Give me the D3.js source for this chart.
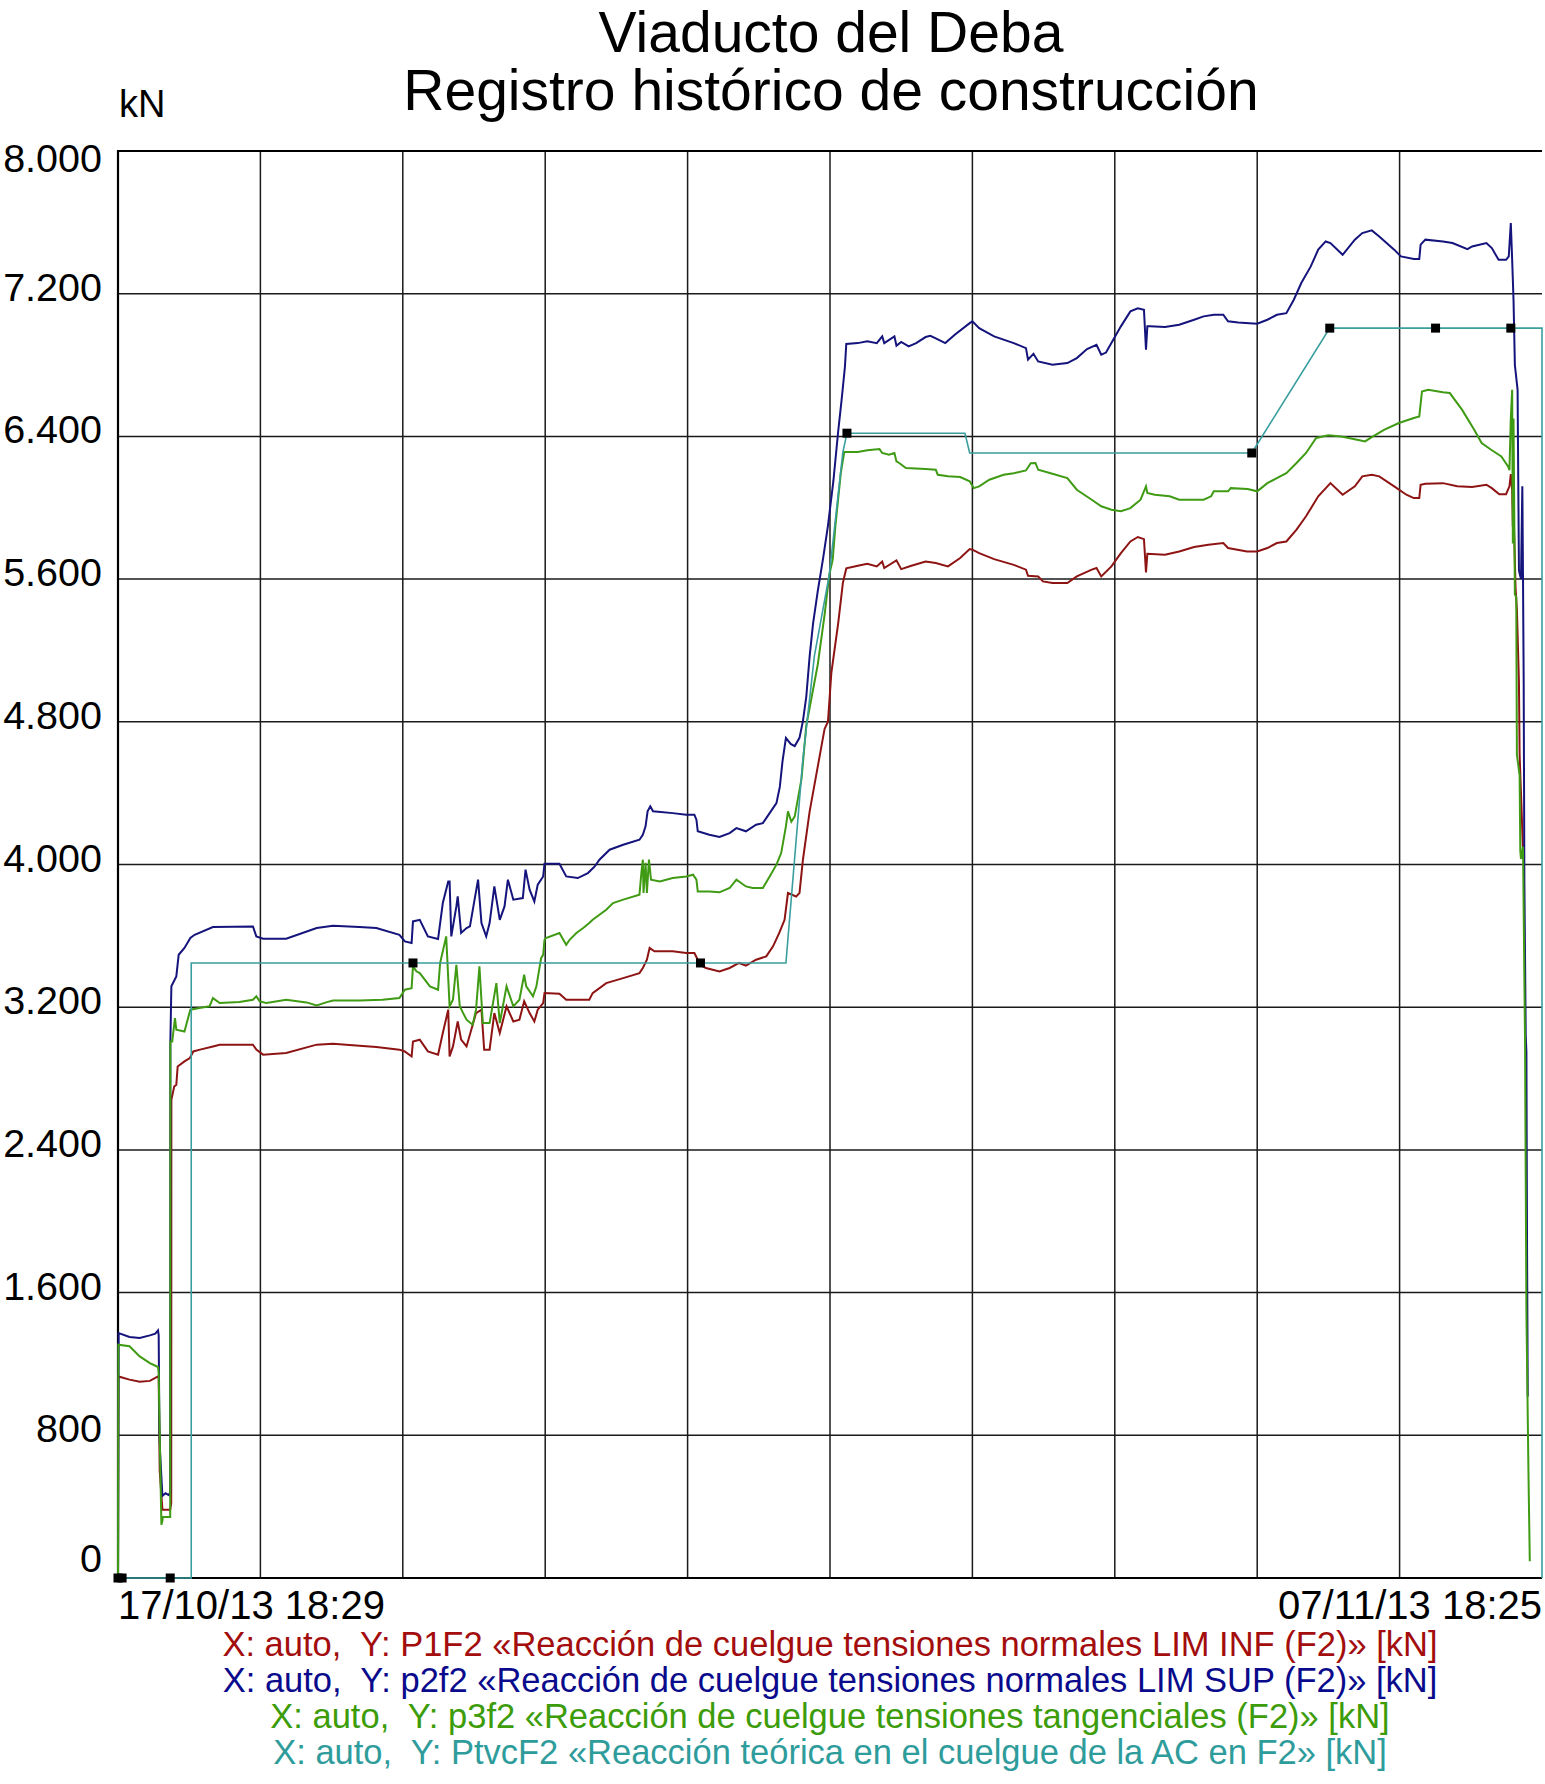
<html><head>
<title>Viaducto del Deba</title>
<script src="https://d3js.org/d3.v7.min.js"></script>
<style>
  body { margin: 0; background: white; }
  text { font-family: "Liberation Sans", Arial, sans-serif; }
</style>
</head>
<body>
<svg id="chart" width="1545" height="1784"></svg>

<script>
// [day since 17/10/13 18:29, kN]
const p1f2 = [[0,0],[0.005,1130],[0.17,1112],[0.32,1100],[0.47,1105],[0.59,1130],[0.6,1120],[0.615,600],[0.655,383],[0.77,383],[0.785,420],[0.787,2681],[0.83,2756],[0.86,2765],[0.88,2868],[0.98,2896],[1.06,2915],[1.11,2952],[1.21,2962],[1.4,2980],[1.5,2990],[1.99,2990],[2.04,2962],[2.14,2934],[2.48,2943],[2.93,2990],[3.17,2995],[3.56,2984],[3.81,2977],[4.15,2962],[4.23,2952],[4.33,2924],[4.35,3008],[4.45,3018],[4.57,2952],[4.72,2934],[4.79,3055],[4.87,3186],[4.89,2924],[4.94,2980],[5.01,3120],[5.06,3018],[5.14,2980],[5.28,3167],[5.36,3186],[5.4,2962],[5.48,2962],[5.55,3167],[5.63,3055],[5.73,3205],[5.83,3120],[5.92,3130],[5.99,3233],[6.07,3167],[6.14,3120],[6.19,3186],[6.27,3223],[6.29,3279],[6.51,3276],[6.61,3242],[6.95,3242],[7.0,3279],[7.2,3335],[7.45,3363],[7.69,3391],[7.74,3420],[7.8,3466],[7.84,3532],[7.91,3513],[8.18,3513],[8.38,3504],[8.5,3504],[8.55,3466],[8.58,3438],[8.67,3420],[8.87,3401],[9.02,3420],[9.16,3448],[9.26,3433],[9.41,3466],[9.56,3485],[9.66,3541],[9.75,3615],[9.83,3690],[9.88,3840],[9.95,3829],[10.0,3820],[10.05,3840],[10.1,4024],[10.2,4298],[10.32,4550],[10.42,4760],[10.47,4801],[10.52,5075],[10.62,5351],[10.69,5579],[10.74,5660],[10.91,5675],[11.05,5686],[11.19,5671],[11.27,5699],[11.3,5662],[11.48,5705],[11.55,5656],[11.7,5675],[11.91,5699],[12.06,5690],[12.24,5671],[12.42,5718],[12.56,5768],[12.6,5765],[12.7,5746],[12.92,5712],[13.21,5680],[13.39,5653],[13.42,5619],[13.57,5615],[13.64,5587],[13.78,5578],[14.0,5578],[14.14,5615],[14.36,5653],[14.43,5662],[14.5,5615],[14.65,5671],[14.79,5746],[14.93,5811],[15.04,5836],[15.13,5824],[15.16,5638],[15.18,5742],[15.44,5737],[15.65,5755],[15.87,5780],[16.08,5793],[16.3,5802],[16.37,5774],[16.65,5755],[16.8,5755],[16.95,5774],[17.09,5802],[17.23,5811],[17.38,5877],[17.52,5952],[17.7,6064],[17.88,6138],[18.06,6073],[18.24,6120],[18.35,6176],[18.49,6185],[18.6,6176],[18.82,6120],[19.0,6073],[19.11,6054],[19.19,6054],[19.21,6129],[19.28,6135],[19.54,6138],[19.75,6120],[19.97,6116],[20.18,6129],[20.26,6110],[20.37,6076],[20.47,6076],[20.52,6120],[20.54,6189],[20.56,6100],[20.57,5896],[20.58,6000],[20.61,5550],[20.63,5430],[20.66,5020],[20.67,4615],[20.69,4400],[20.72,4076]];

const p2f2 = [[0,0],[0.01,1373],[0.17,1351],[0.32,1345],[0.47,1360],[0.55,1370],[0.59,1388],[0.6,1360],[0.61,850],[0.62,710],[0.655,460],[0.7,475],[0.75,465],[0.77,480],[0.772,2999],[0.787,3317],[0.86,3373],[0.895,3494],[0.98,3532],[1.067,3588],[1.13,3606],[1.4,3649],[1.99,3653],[2.04,3597],[2.14,3584],[2.48,3584],[2.93,3644],[3.17,3657],[3.56,3649],[3.81,3644],[4.15,3606],[4.23,3569],[4.33,3560],[4.35,3681],[4.45,3690],[4.57,3597],[4.72,3582],[4.79,3784],[4.87,3905],[4.89,3905],[4.915,3597],[4.99,3765],[5.01,3821],[5.06,3616],[5.14,3644],[5.19,3653],[5.31,3915],[5.36,3672],[5.43,3597],[5.48,3672],[5.55,3877],[5.63,3690],[5.7,3765],[5.75,3915],[5.83,3803],[5.97,3812],[6.01,3971],[6.07,3859],[6.14,3793],[6.19,3887],[6.27,3933],[6.29,4004],[6.51,4004],[6.61,3933],[6.78,3924],[6.93,3952],[7.03,3989],[7.1,4027],[7.25,4083],[7.45,4111],[7.69,4139],[7.74,4167],[7.78,4214],[7.81,4298],[7.85,4326],[7.89,4298],[8.18,4288],[8.38,4279],[8.5,4279],[8.53,4251],[8.55,4186],[8.72,4167],[8.87,4154],[9.02,4176],[9.12,4204],[9.26,4186],[9.41,4223],[9.51,4232],[9.61,4288],[9.71,4344],[9.76,4435],[9.8,4580],[9.85,4710],[9.92,4676],[9.98,4664],[10.05,4710],[10.1,4802],[10.15,4940],[10.2,5168],[10.25,5350],[10.32,5534],[10.4,5720],[10.47,5900],[10.55,6150],[10.62,6426],[10.67,6600],[10.72,6790],[10.74,6918],[10.91,6923],[11.05,6933],[11.19,6923],[11.27,6961],[11.3,6923],[11.45,6961],[11.48,6908],[11.55,6930],[11.66,6905],[11.77,6923],[11.91,6957],[11.98,6964],[12.06,6950],[12.2,6923],[12.34,6970],[12.56,7035],[12.6,7045],[12.7,7007],[12.92,6961],[13.21,6923],[13.39,6895],[13.42,6830],[13.5,6863],[13.57,6820],[13.78,6802],[14.0,6811],[14.14,6839],[14.29,6890],[14.43,6914],[14.5,6858],[14.57,6870],[14.65,6923],[14.79,7017],[14.93,7101],[15.04,7118],[15.13,7110],[15.16,6886],[15.18,7017],[15.22,7017],[15.44,7013],[15.65,7026],[15.87,7054],[16.01,7073],[16.16,7082],[16.3,7082],[16.37,7045],[16.52,7039],[16.8,7032],[16.95,7054],[17.09,7082],[17.23,7091],[17.34,7166],[17.45,7260],[17.59,7353],[17.7,7447],[17.81,7493],[17.88,7484],[18.06,7418],[18.24,7503],[18.35,7540],[18.49,7555],[18.6,7521],[18.82,7447],[18.92,7409],[19.11,7394],[19.19,7394],[19.21,7475],[19.28,7503],[19.54,7493],[19.68,7484],[19.9,7450],[19.97,7465],[20.18,7484],[20.26,7456],[20.36,7390],[20.47,7390],[20.51,7409],[20.54,7596],[20.56,7390],[20.58,7166],[20.6,6800],[20.64,6661],[20.66,5649],[20.69,5600],[20.71,6121],[20.72,5604],[20.73,5020],[20.74,3900],[20.76,3041],[20.77,2950],[20.78,1800],[20.79,1018]];

const p3f2 = [[0,0],[0.005,1308],[0.17,1299],[0.32,1242],[0.47,1205],[0.59,1183],[0.6,1150],[0.62,700],[0.64,299],[0.655,320],[0.66,342],[0.77,342],[0.772,3008],[0.8,3008],[0.84,3139],[0.86,3074],[0.98,3064],[1.067,3186],[1.2,3195],[1.35,3205],[1.4,3251],[1.5,3223],[1.79,3229],[1.99,3242],[2.04,3261],[2.09,3233],[2.19,3223],[2.48,3242],[2.78,3227],[2.93,3210],[3.07,3227],[3.17,3238],[3.56,3238],[3.9,3242],[4.15,3251],[4.23,3298],[4.33,3307],[4.35,3429],[4.4,3401],[4.45,3391],[4.6,3317],[4.72,3298],[4.75,3447],[4.84,3597],[4.89,3205],[4.94,3242],[4.99,3438],[5.04,3205],[5.09,3167],[5.14,3130],[5.23,3102],[5.28,3186],[5.33,3429],[5.38,3111],[5.48,3111],[5.58,3335],[5.63,3111],[5.73,3317],[5.83,3205],[5.92,3242],[5.99,3382],[6.02,3317],[6.12,3261],[6.17,3317],[6.24,3475],[6.27,3494],[6.29,3578],[6.31,3588],[6.51,3616],[6.61,3550],[6.66,3578],[6.76,3616],[6.86,3644],[6.95,3672],[7.0,3690],[7.2,3746],[7.3,3784],[7.45,3803],[7.69,3831],[7.72,3960],[7.74,4027],[7.75,3840],[7.78,4010],[7.8,3840],[7.83,4027],[7.86,3915],[7.99,3905],[8.18,3924],[8.38,3933],[8.48,3943],[8.53,3915],[8.55,3849],[8.72,3849],[8.87,3844],[9.02,3868],[9.12,3915],[9.26,3877],[9.36,3868],[9.51,3868],[9.61,3933],[9.71,3999],[9.78,4064],[9.85,4214],[9.88,4298],[9.93,4240],[9.98,4270],[10.08,4481],[10.15,4779],[10.24,4960],[10.32,5122],[10.42,5400],[10.49,5625],[10.54,5709],[10.58,5900],[10.66,6197],[10.71,6312],[10.91,6312],[11.05,6322],[11.23,6329],[11.27,6307],[11.37,6297],[11.45,6307],[11.48,6260],[11.52,6251],[11.62,6223],[11.91,6217],[12.06,6213],[12.09,6185],[12.24,6176],[12.42,6172],[12.56,6148],[12.62,6110],[12.7,6120],[12.85,6157],[13.06,6185],[13.21,6194],[13.39,6209],[13.46,6250],[13.53,6251],[13.57,6213],[13.78,6191],[14.0,6166],[14.14,6101],[14.36,6045],[14.5,6008],[14.65,5989],[14.79,5980],[14.93,5998],[15.08,6045],[15.16,6120],[15.18,6083],[15.29,6073],[15.51,6064],[15.65,6045],[15.8,6045],[16.01,6045],[16.12,6064],[16.16,6092],[16.37,6092],[16.41,6110],[16.66,6105],[16.8,6092],[16.95,6138],[17.09,6166],[17.23,6194],[17.38,6251],[17.52,6307],[17.67,6391],[17.85,6406],[18.04,6400],[18.31,6378],[18.39,6372],[18.49,6396],[18.67,6437],[18.89,6475],[19.11,6503],[19.19,6512],[19.23,6652],[19.32,6662],[19.54,6647],[19.64,6643],[19.82,6550],[20.0,6437],[20.11,6363],[20.25,6325],[20.4,6288],[20.5,6232],[20.52,6211],[20.54,6500],[20.56,6661],[20.57,5800],[20.58,6500],[20.6,5514],[20.62,5500],[20.63,4615],[20.67,4500],[20.68,4076],[20.69,4031],[20.72,4100],[20.75,3000],[20.77,1500],[20.78,1200],[20.8,600],[20.82,94]];

const ptvcF2 = [[0,0],[0.06,0],[0.77,0],[1.08,0],[1.08,3448],[4.35,3448],[8.59,3448],[9.85,3448],[10.1,4590],[10.27,5170],[10.49,5625],[10.69,6312],[10.75,6418],[12.49,6418],[12.56,6307],[16.72,6307],[17.87,7007],[19.43,7007],[20.54,7007],[21,7007],[21,0]];
const ptvcMarks = [[0,0],[0.06,0],[0.77,0],[4.35,3448],[8.59,3448],[10.75,6418],[16.72,6307],[17.87,7007],[19.43,7007],[20.54,7007]];

const yTicks = [0, 800, 1600, 2400, 3200, 4000, 4800, 5600, 6400, 7200, 8000];
const xGrid = [2.1, 4.2, 6.3, 8.4, 10.5, 12.6, 14.7, 16.8, 18.9];
const xLabels = ["17/10/13 18:29", "07/11/13 18:25"];

const titles = ["Viaducto del Deba", "Registro histórico de construcción"];
const legendTexts = [
  "X: auto,  Y: P1F2 «Reacción de cuelgue tensiones normales LIM INF (F2)» [kN]",
  "X: auto,  Y: p2f2 «Reacción de cuelgue tensiones normales LIM SUP (F2)» [kN]",
  "X: auto,  Y: p3f2 «Reacción de cuelgue tensiones tangenciales (F2)» [kN]",
  "X: auto,  Y: PtvcF2 «Reacción teórica en el cuelgue de la AC en F2» [kN]"
];
const lineColors = ["#8e1414", "#14147c", "#3f9a14", "#3a9e9e"];
const textColors = ["#a30d0d", "#0a0a8c", "#3c9c0a", "#2f9c9c"];

const svg = d3.select("svg#chart");
const margin = { top: 151, right: 3, bottom: 206, left: 118 };
const width = +svg.attr("width");
const height = +svg.attr("height");
const plotW = width - margin.left - margin.right;
const plotH = height - margin.top - margin.bottom;

const x = d3.scaleLinear().domain([0, 21]).range([margin.left, margin.left + plotW]);
const y = d3.scaleLinear().domain([0, 8000]).range([margin.top + plotH, margin.top]);

const fmt = d3.formatLocale({ decimal: ",", thousands: ".", grouping: [3], currency: ["", ""] }).format(",");

// gridlines
svg.append("g").selectAll("line.hgrid").data(yTicks)
  .join("line")
  .attr("class", "hgrid")
  .attr("x1", margin.left).attr("x2", margin.left + plotW)
  .attr("y1", d => y(d)).attr("y2", d => y(d))
  .attr("stroke", "#1a1a1a").attr("stroke-width", 1.5);

svg.append("g").selectAll("line.vgrid").data(xGrid)
  .join("line")
  .attr("class", "vgrid")
  .attr("x1", d => x(d)).attr("x2", d => x(d))
  .attr("y1", y(8000)).attr("y2", y(0))
  .attr("stroke", "#1a1a1a").attr("stroke-width", 1.5);

// frame (left, top, bottom)
svg.append("path")
  .attr("d", `M${x(21)},${y(8000)}H${x(0)}V${y(0)}H${x(21)}`)
  .attr("fill", "none").attr("stroke", "black").attr("stroke-width", 2.2);

// y labels
svg.append("g").selectAll("text.ytick").data(yTicks)
  .join("text")
  .attr("class", "ytick")
  .attr("x", 102)
  .attr("y", d => Math.min(Math.max(y(d) + 7, 172), 1572))
  .attr("text-anchor", "end")
  .attr("font-size", 39.5)
  .text(d => fmt(d));

svg.append("text").attr("x", 119).attr("y", 117).attr("font-size", 38).text("kN");

// x labels
svg.append("text").attr("x", x(0)).attr("y", 1619).attr("font-size", 40).text(xLabels[0]);
svg.append("text").attr("x", x(21)).attr("y", 1619).attr("font-size", 40)
  .attr("text-anchor", "end").text(xLabels[1]);

// titles
svg.selectAll("text.title").data(titles)
  .join("text")
  .attr("class", "title")
  .attr("x", 831)
  .attr("y", (d, i) => 52 + i * 58)
  .attr("text-anchor", "middle")
  .attr("font-size", 57)
  .text(d => d);

// series
const line = d3.line().x(d => x(d[0])).y(d => y(d[1]));
const series = [p1f2, p2f2, p3f2, ptvcF2];
svg.append("g").selectAll("path.series").data(series)
  .join("path")
  .attr("class", "series")
  .attr("fill", "none")
  .attr("stroke", (d, i) => lineColors[i])
  .attr("stroke-width", (d, i) => i == 3 ? 1.6 : 2)
  .attr("stroke-linejoin", "miter")
  .attr("d", line);

svg.append("g").selectAll("rect.mark").data(ptvcMarks)
  .join("rect")
  .attr("class", "mark")
  .attr("x", d => x(d[0]) - 4.5)
  .attr("y", d => y(d[1]) - 4.5)
  .attr("width", 9).attr("height", 9)
  .attr("fill", "black");

// legend
svg.selectAll("text.legend").data(legendTexts)
  .join("text")
  .attr("class", "legend")
  .attr("x", 830)
  .attr("y", (d, i) => 1656 + i * 36)
  .attr("text-anchor", "middle")
  .attr("font-size", 34.5)
  .attr("fill", (d, i) => textColors[i])
  .style("white-space", "pre")
  .text(d => d);
</script>
</body>
</html>
